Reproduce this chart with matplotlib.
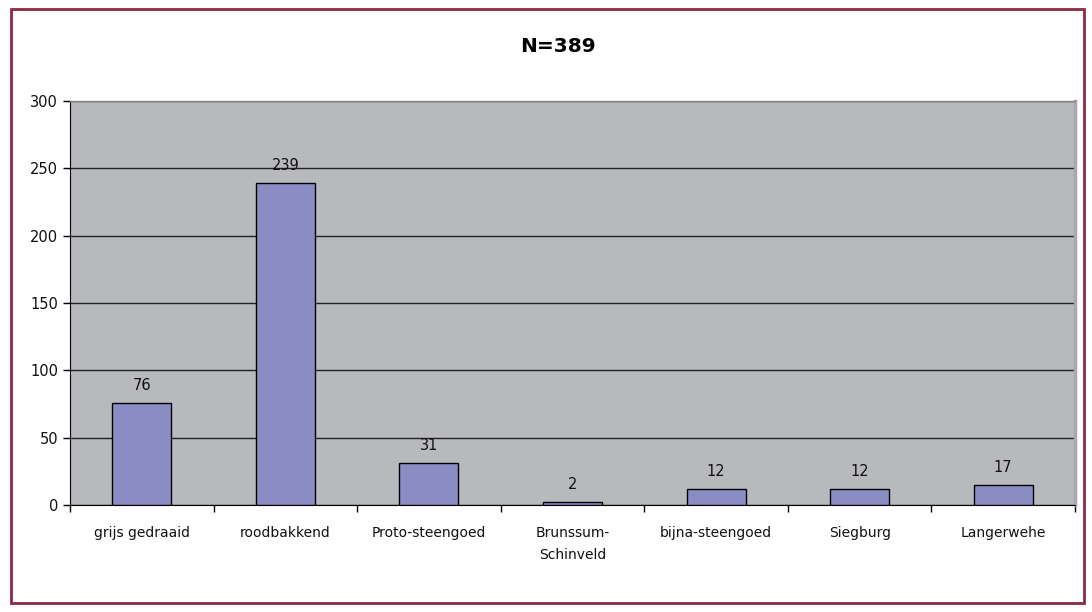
import matplotlib.pyplot as plt
from matplotlib.patches import Rectangle

categories = ["grijs gedraaid", "roodbakkend", "Proto-steengoed", "Brunssum-\nSchinveld",
              "bijna-steengoed", "Siegburg", "Langerwehe"]
bar_heights = [76, 239, 31, 2, 12, 12, 15]
bar_labels = ["76", "239", "31", "2", "12", "12", "17"]
y_ticks = [0, 50, 100, 150, 200, 250, 300]
title = "N=389"

fig = plt.figure(figsize=(10.92, 6.12), dpi=100)
fig.patch.set_facecolor("white")

# rand rond de figuur
fig.add_artist(Rectangle((11 / 1092, 1 - 603 / 612), 1073 / 1092, 594 / 612,
                         transform=fig.transFigure, fill=False,
                         edgecolor="#8b2a45", linewidth=2))

ax = fig.add_axes([70 / 1092, 1 - 505 / 612, 1005 / 1092, 404 / 612])
ax.set_facecolor("#b8b9bd")

x = range(len(categories))
ax.bar(x, bar_heights, width=0.41, color="#8a8dc4", edgecolor="black", linewidth=1, zorder=3)
for i, (h, lab) in enumerate(zip(bar_heights, bar_labels)):
    ax.annotate(lab, (i, h), xytext=(0, 12.5), textcoords="offset points",
                ha="center", va="center", fontsize=10.5, color="#111111", zorder=4)

ax.set_xlim(-0.5, len(categories) - 0.5)
ax.set_ylim(0, 300)
ax.set_yticks(y_ticks)
ax.tick_params(axis="y", labelsize=10.5, direction="out", length=5, width=1, labelcolor="#111111")
ax.yaxis.grid(True, color="#222222", linewidth=1, zorder=1)
ax.set_axisbelow(True)

# categorie-labels in het midden, tickjes op de grenzen
ax.set_xticks([i + 0.5 for i in range(-1, len(categories))])
ax.set_xticklabels([])
ax.tick_params(axis="x", direction="out", length=5, width=1)
for i, c in enumerate(categories):
    ax.annotate(c, (i, 0), xytext=(0, -15), textcoords="offset points",
                ha="center", va="top", fontsize=10, linespacing=1.75, color="#111111")

ax.spines["top"].set_color("#888888")
ax.spines["top"].set_linewidth(1)
ax.spines["right"].set_color("#a8a8ac")
ax.spines["right"].set_linewidth(2.5)
ax.spines["left"].set_color("black")
ax.spines["bottom"].set_color("black")

fig.text(558 / 1092, 1 - 46 / 612, title, ha="center", va="center",
         fontsize=14.5, fontweight="bold")

fig.savefig("out.png", dpi=100)
